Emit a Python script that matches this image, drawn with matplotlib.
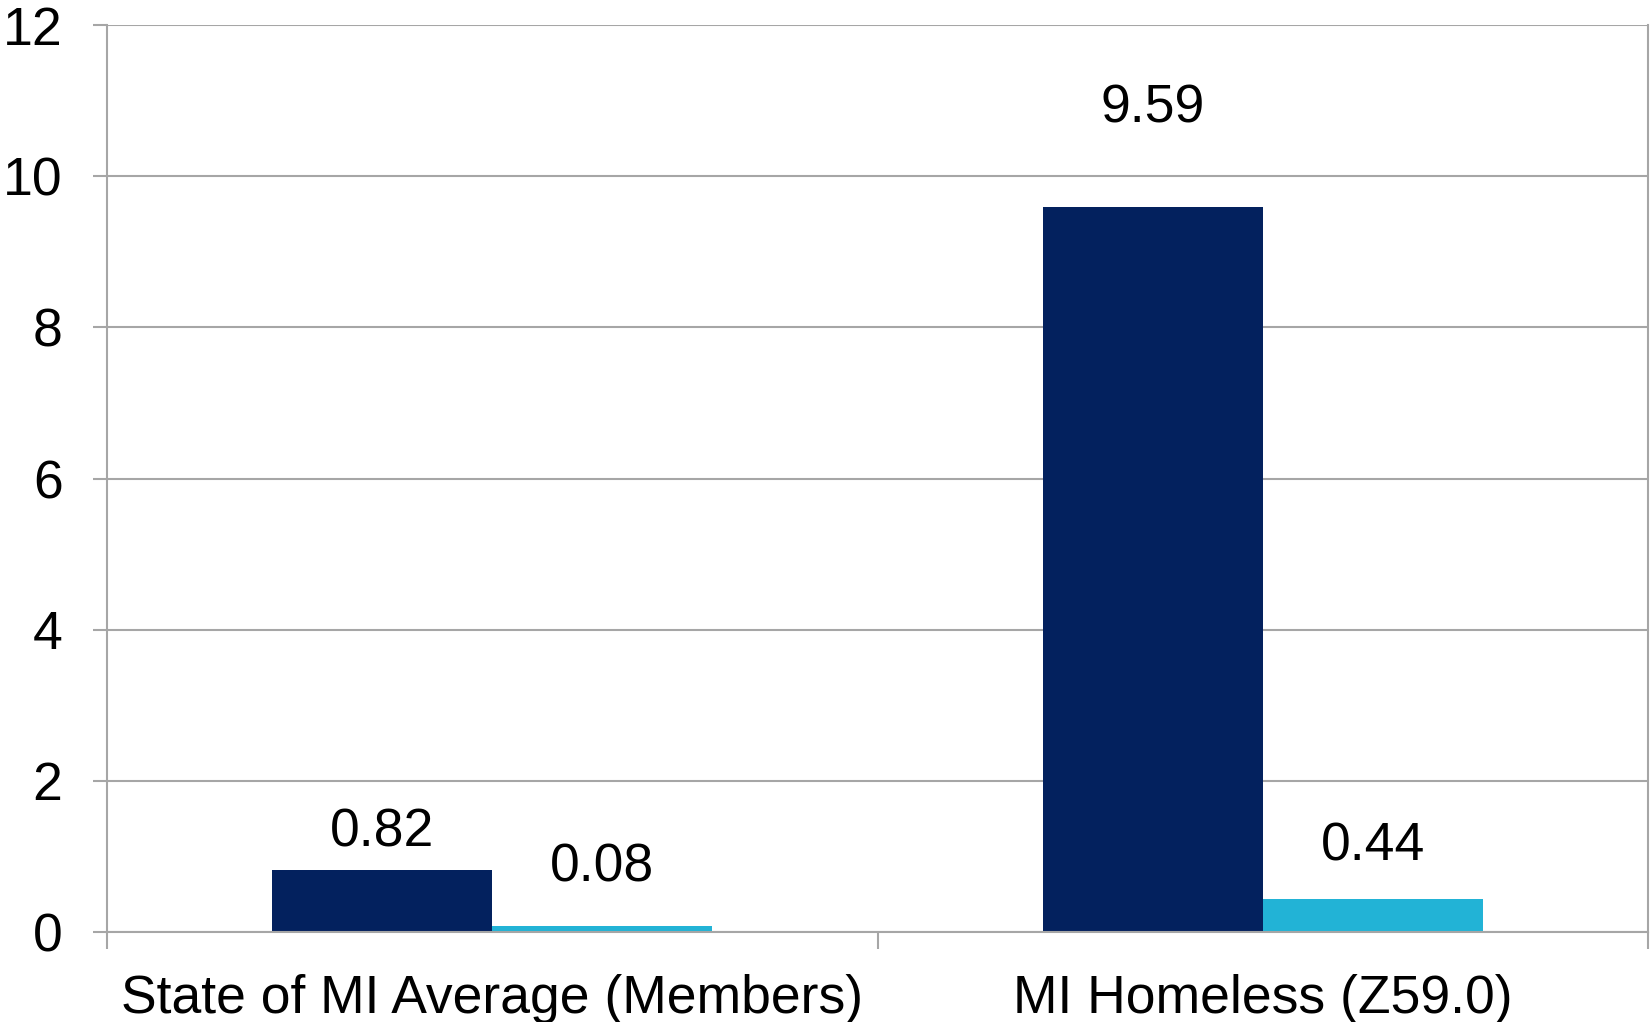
import numpy as np
import matplotlib.pyplot as plt

plt.rcParams['font.family'] = ['Liberation Sans', 'DejaVu Sans']

categories = ['State of MI Average (Members)', 'MI Homeless (Z59.0)']
series_a = [0.82, 9.59]
series_b = [0.08, 0.44]

# label offsets above bar tops (points), as placed in the original chart
offsets_a = [27, 71]
offsets_b = [42, 38]

dark = '#03215E'
cyan = '#22B3D6'
grid_col = '#A6A6A6'

fig = plt.figure(figsize=(16.51, 10.22), dpi=100)
ax = fig.add_axes([0.0648, 0.088, 0.9334, 0.8875])

x = np.arange(len(categories))
w = 1 / 3.5
bars_a = ax.bar(x - w / 2, series_a, width=w, color=dark, zorder=3)
bars_b = ax.bar(x + w / 2, series_b, width=w, color=cyan, zorder=3)

for bars, vals, offs in [(bars_a, series_a, offsets_a), (bars_b, series_b, offsets_b)]:
    for b, v, o in zip(bars, vals, offs):
        ax.annotate(f'{v:.2f}', (b.get_x() + b.get_width() / 2, v),
                    xytext=(0, o), textcoords='offset points',
                    ha='center', va='center', fontsize=38.5, color='black')

ax.set_xlim(-0.5, len(categories) - 0.5)
ax.set_ylim(0, 12)
ax.set_yticks(range(0, 13, 2))
ax.yaxis.grid(True, color=grid_col, linewidth=1.5, zorder=0)

ax.set_xticks([-0.5, 0.5, 1.5])
ax.set_xticklabels([])
ax.set_xticks(x, minor=True)
ax.set_xticklabels(categories, minor=True)
ax.tick_params(axis='x', which='major', length=12, width=1.5, color=grid_col)
ax.tick_params(axis='x', which='minor', length=0, pad=30, labelsize=38.5)
ax.tick_params(axis='y', length=10, width=1.5, color=grid_col, labelsize=38.5, pad=22)

for side in ['left', 'right', 'bottom']:
    ax.spines[side].set_color(grid_col)
    ax.spines[side].set_linewidth(1.5)
ax.spines['top'].set_visible(False)
ax.spines['bottom'].set_zorder(4)

fig.savefig('out.png', dpi=100)
